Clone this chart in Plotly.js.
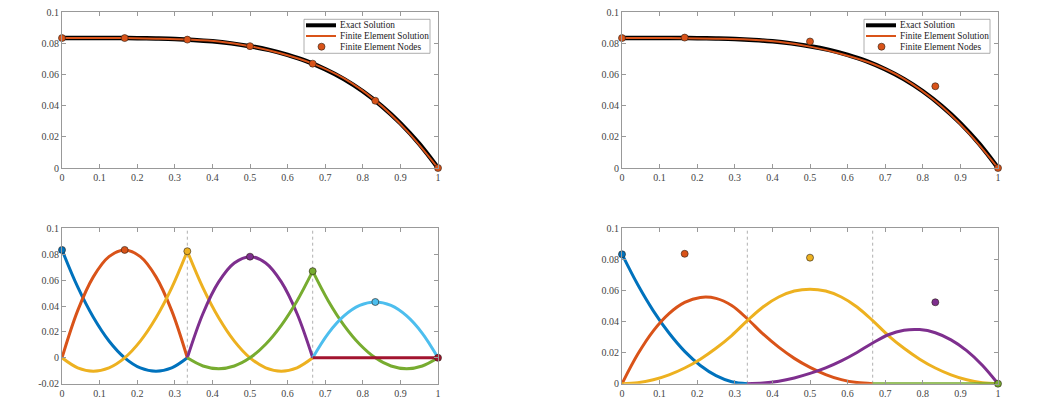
<!DOCTYPE html>
<html><head><meta charset="utf-8">
<script src="https://cdn.plot.ly/plotly-3.0.1.min.js"></script>
<style>html,body{margin:0;padding:0;background:#fff;} #chart{width:1046px;height:402px;}</style>
</head><body><div id="chart"></div>
<script>
// ---------- data ----------
const xExact = [0,0.05,0.1,0.15,0.2,0.25,0.3,0.35,0.4,0.45,0.5,0.55,0.6,0.65,0.7,0.75,0.8,0.85,0.9,0.95,1];
const yExact = [0.0833,0.0833,0.0833,0.0833,0.0832,0.0830,0.0827,0.0821,0.0812,0.0799,0.0781,0.0757,0.0725,0.0685,0.0633,0.0570,0.0492,0.0398,0.0287,0.0155,0];

const xFE = [0,0.0833,0.1667,0.25,0.3333,0.4167,0.5,0.5833,0.6667,0.75,0.8333,0.9167,1];
const yFELeft  = [0.0833,0.0834,0.0833,0.0829,0.0823,0.0811,0.0781,0.0734,0.0669,0.0574,0.0432,0.0240,0];
const yFERight = [0.0833,0.0834,0.0832,0.0829,0.0824,0.0809,0.0778,0.0731,0.0668,0.0572,0.0429,0.0238,0];

const xNodesLeft = [0,0.1667,0.3333,0.5,0.6667,0.8333,1];
const yNodesLeft = [0.0833,0.0833,0.0823,0.0781,0.0669,0.0431,0];
const xNodesRight = [0,0.1667,0.5,0.8333,1];
const yNodesRight = [0.0833,0.0836,0.0811,0.0524,0];

// sample grid used for the basis-function curves
const xGrid = [0,0.0417,0.0833,0.125,0.1667,0.2083,0.25,0.2917,0.3333,0.375,0.4167,0.4583,0.5,0.5417,0.5833,0.625,0.6667,0.7083,0.75,0.7917,0.8333,0.875,0.9167,0.9583,1];

// bottom-left: scaled quadratic Lagrange basis functions, per element
const lagBlue    = [0.0833,0.0547,0.0313,0.0130,0,-0.0078,-0.0104,-0.0078,0];
const lagOrange  = [0,0.0364,0.0625,0.0781,0.0833,0.0781,0.0625,0.0364,0];
const lagYellowA = [0,-0.0077,-0.0103,-0.0077,0,0.0129,0.0309,0.0540,0.0823];
const lagYellowB = [0.0823,0.0540,0.0309,0.0129,0,-0.0077,-0.0103,-0.0077,0];
const lagPurple  = [0,0.0342,0.0586,0.0732,0.0781,0.0732,0.0586,0.0342,0];
const lagGreenA  = [0,-0.0063,-0.0084,-0.0063,0,0.0105,0.0251,0.0439,0.0669];
const lagGreenB  = [0.0669,0.0439,0.0251,0.0105,0,-0.0063,-0.0084,-0.0063,0];
const lagCyan    = [0,0.0189,0.0323,0.0404,0.0431,0.0404,0.0323,0.0189,0];
const lagRed     = [0,0,0,0,0,0,0,0,0];

// bottom-right: scaled quadratic B-spline basis functions
const splBlue   = [0.0833,0.0638,0.0469,0.0326,0.0208,0.0117,0.0052,0.0013,0];
const splOrange = [0,0.0189,0.0340,0.0451,0.0523,0.0555,0.0549,0.0503,0.0418,0.0320,0.0235,0.0163,0.0105,0.0059,0.0026,0.0007,0];
const splYellow = [0,0.0006,0.0025,0.0057,0.0101,0.0158,0.0228,0.0310,0.0406,0.0494,0.0558,0.0596,0.0608,0.0596,0.0558,0.0494,0.0406,0.0310,0.0228,0.0158,0.0101,0.0057,0.0025,0.0006,0];
const splPurple = [0,0.0004,0.0016,0.0037,0.0066,0.0102,0.0147,0.0201,0.0262,0.0315,0.0344,0.0348,0.0328,0.0282,0.0213,0.0119,0];
const splGreen  = [0,0,0,0,0,0,0,0,0];

const elementBounds = [0.3333, 0.6667];

const xTickVals = [0,0.1,0.2,0.3,0.4,0.5,0.6,0.7,0.8,0.9,1];
const xTickText = ['0','0.1','0.2','0.3','0.4','0.5','0.6','0.7','0.8','0.9','1'];
const yTickVals = [0,0.02,0.04,0.06,0.08,0.1];
const yTickText = ['0','0.02','0.04','0.06','0.08','0.1'];
const yTickValsBL = [-0.02,0,0.02,0.04,0.06,0.08,0.1];
const yTickTextBL = ['-0.02','0','0.02','0.04','0.06','0.08','0.1'];

const legendLabels = ['Exact Solution','Finite Element Solution','Finite Element Nodes'];

// ---------- styles ----------
const C = {blue:'#0072BD', orange:'#D95319', yellow:'#EDB120', purple:'#7E2F8E', green:'#77AC30', cyan:'#4DBEEE', red:'#A2142F'};
const nodeColorsLeft = [C.blue,C.orange,C.yellow,C.purple,C.green,C.cyan,C.red];
const nodeColorsRight = [C.blue,C.orange,C.yellow,C.purple,C.green];
const W = 1046, H = 402;
const el1 = xGrid.slice(0,9), el2 = xGrid.slice(8,17), el3 = xGrid.slice(16,25);

function line(x,y,color,width,xa,ya){
  return {x:x,y:y,xaxis:xa,yaxis:ya,type:'scatter',mode:'lines',cliponaxis:false,
    line:{color:color,width:width,shape:'spline',smoothing:1},showlegend:false,hoverinfo:'skip'};
}
function nodes(x,y,colors,xa,ya){
  return {x:x,y:y,xaxis:xa,yaxis:ya,type:'scatter',mode:'markers',cliponaxis:false,
    marker:{color:colors,size:7,line:{color:'rgba(40,30,20,0.75)',width:0.8}},showlegend:false,hoverinfo:'skip'};
}

const traces = [
  // top-left
  line(xExact,yExact,'#000',4.5,'x','y'),
  line(xFE,yFELeft,C.orange,2,'x','y'),
  nodes(xNodesLeft,yNodesLeft,C.orange,'x','y'),
  // top-right
  line(xExact,yExact,'#000',4.5,'x2','y2'),
  line(xFE,yFERight,C.orange,2,'x2','y2'),
  nodes(xNodesRight,yNodesRight,C.orange,'x2','y2'),
  // bottom-left
  line(el1,lagBlue,C.blue,3,'x3','y3'),
  line(el1,lagOrange,C.orange,3,'x3','y3'),
  line(el1,lagYellowA,C.yellow,3,'x3','y3'),
  line(el2,lagYellowB,C.yellow,3,'x3','y3'),
  line(el2,lagPurple,C.purple,3,'x3','y3'),
  line(el2,lagGreenA,C.green,3,'x3','y3'),
  line(el3,lagGreenB,C.green,3,'x3','y3'),
  line(el3,lagCyan,C.cyan,3,'x3','y3'),
  line(el3,lagRed,C.red,3,'x3','y3'),
  nodes(xNodesLeft,yNodesLeft,nodeColorsLeft,'x3','y3'),
  // bottom-right
  line(xGrid.slice(0,9),splBlue,C.blue,3,'x4','y4'),
  line(xGrid.slice(0,17),splOrange,C.orange,3,'x4','y4'),
  line(xGrid,splYellow,C.yellow,3,'x4','y4'),
  line(xGrid.slice(8,25),splPurple,C.purple,3,'x4','y4'),
  line(xGrid.slice(16,25),splGreen,C.green,3,'x4','y4'),
  nodes(xNodesRight,yNodesRight,nodeColorsRight,'x4','y4'),
];

const tickFont = {family:'"Liberation Serif", "Times New Roman", serif', size:10, color:'#444'};
function xax(domain, anchor){
  return {domain:domain, anchor:anchor, range:[0,1], tickmode:'array', tickvals:xTickVals, ticktext:xTickText,
    ticks:'inside', ticklen:4, tickwidth:1, tickcolor:'#999', showline:true, linecolor:'#999', linewidth:1,
    mirror:'ticks', showgrid:false, zeroline:false, tickfont:tickFont, automargin:false, fixedrange:true};
}
function yax(domain, anchor, range, vals, text){
  return {domain:domain, anchor:anchor, range:range, tickmode:'array', tickvals:vals, ticktext:text,
    ticks:'inside', ticklen:4, tickwidth:1, tickcolor:'#999', showline:true, linecolor:'#999', linewidth:1,
    mirror:'ticks', showgrid:false, zeroline:false, tickfont:tickFont, automargin:false, fixedrange:true};
}
const px = v => v / W, py = v => 1 - v / H;
const dxL = [62/W, 438/W], dxR = [622/W, 998/W];
const dyT = [py(168), py(12)], dyB = [py(383.7), py(228.3)];

const shapes = [], annotations = [];
elementBounds.forEach(b => {
  ['x3','x4'].forEach(xa => {
    shapes.push({type:'line', xref:xa, yref:(xa==='x3'?'y3':'y4')+' domain', x0:b, x1:b, y0:0, y1:1,
      line:{color:'#b0b0b0', width:1, dash:'dot'}, layer:'below'});
  });
});
[0, 560].forEach(off => {
  shapes.push({type:'rect', xref:'paper', yref:'paper', x0:px(304+off), x1:px(430+off), y0:py(53.3), y1:py(19.3),
    fillcolor:'#fff', line:{color:'#999', width:0.8}});
  shapes.push({type:'line', xref:'paper', yref:'paper', x0:px(306+off), x1:px(336+off), y0:py(25.3), y1:py(25.3),
    line:{color:'#000', width:4}});
  shapes.push({type:'line', xref:'paper', yref:'paper', x0:px(306+off), x1:px(336+off), y0:py(36), y1:py(36),
    line:{color:C.orange, width:2}});
  shapes.push({type:'circle', xref:'paper', yref:'paper', x0:px(318+off), x1:px(325+off), y0:py(50.2), y1:py(43.2),
    fillcolor:C.orange, line:{color:'rgba(40,30,20,0.75)', width:0.8}});
  [25.3, 36, 46.7].forEach((yy,i) => {
    annotations.push({xref:'paper', yref:'paper', x:px(338+off), y:py(yy), xanchor:'left', yanchor:'middle',
      text:legendLabels[i], showarrow:false,
      font:{family:'"Liberation Serif", "Times New Roman", serif', size:9.3, color:'#222'}});
  });
});

const layout = {
  width:W, height:H, margin:{l:0,r:0,t:0,b:0}, paper_bgcolor:'#fff', plot_bgcolor:'#fff',
  showlegend:false, hovermode:false,
  xaxis: xax(dxL,'y'), yaxis: yax(dyT,'x',[0,0.1],yTickVals,yTickText),
  xaxis2: xax(dxR,'y2'), yaxis2: yax(dyT,'x2',[0,0.1],yTickVals,yTickText),
  xaxis3: xax(dxL,'y3'), yaxis3: yax(dyB,'x3',[-0.02,0.1],yTickValsBL,yTickTextBL),
  xaxis4: xax(dxR,'y4'), yaxis4: yax(dyB,'x4',[0,0.1],yTickVals,yTickText),
  shapes: shapes, annotations: annotations
};
Plotly.newPlot('chart', traces, layout, {staticPlot:true, displayModeBar:false});
</script></body></html>
